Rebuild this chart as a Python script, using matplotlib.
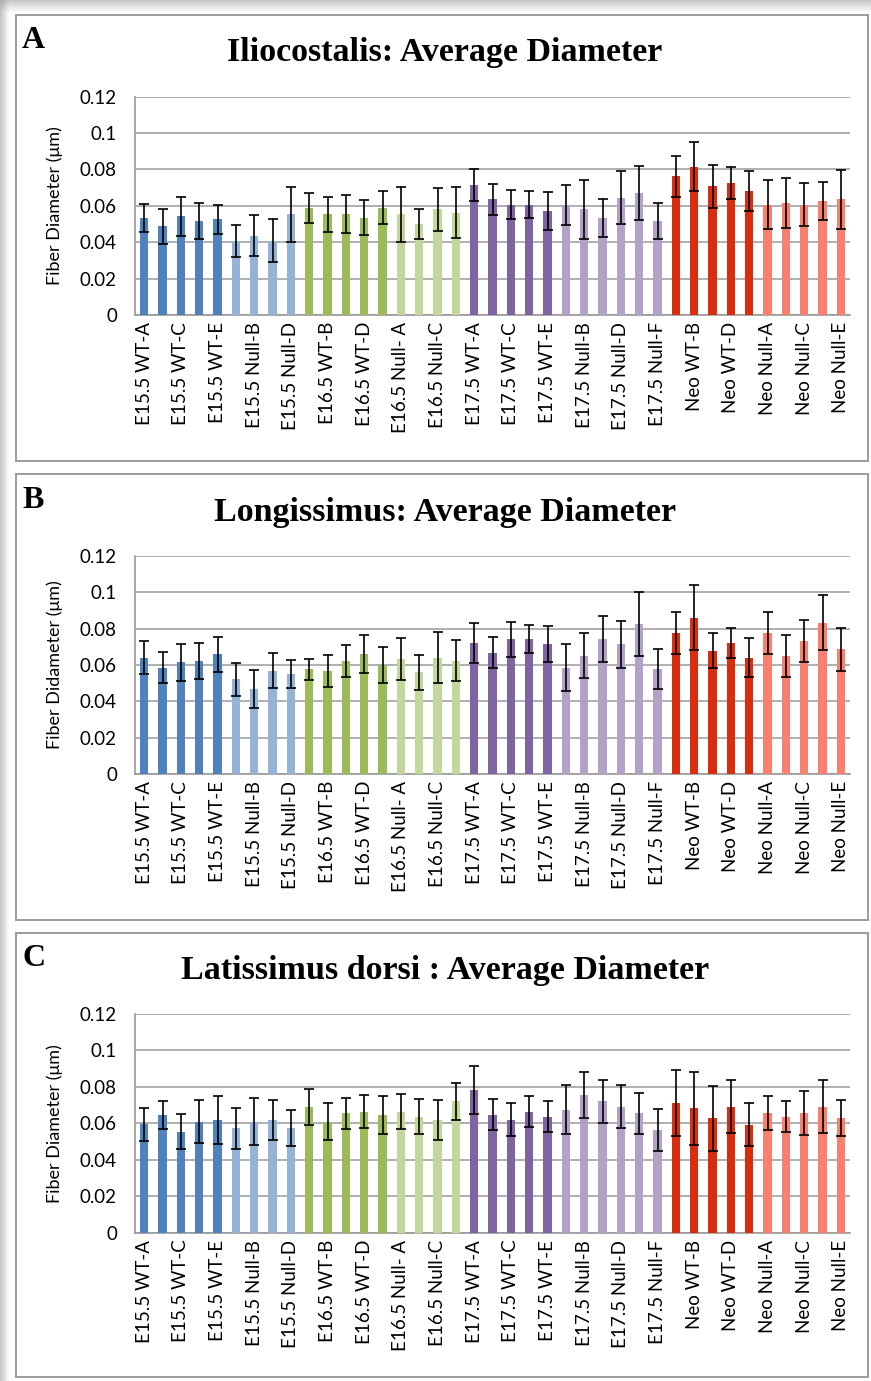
import matplotlib
matplotlib.use("Agg")
import matplotlib.pyplot as plt
from matplotlib.patches import Rectangle
import numpy as np

categories = [
    "E15.5 WT-A", "E15.5 WT-B", "E15.5 WT-C", "E15.5 WT-D", "E15.5 WT-E",
    "E15.5 Null-A", "E15.5 Null-B", "E15.5 Null-C", "E15.5 Null-D",
    "E16.5 WT-A", "E16.5 WT-B", "E16.5 WT-C", "E16.5 WT-D", "E16.5 WT-E",
    "E16.5 Null- A", "E16.5 Null-B", "E16.5 Null-C", "E16.5 Null-D",
    "E17.5 WT-A", "E17.5 WT-B", "E17.5 WT-C", "E17.5 WT-D", "E17.5 WT-E",
    "E17.5 Null-A", "E17.5 Null-B", "E17.5 Null-C", "E17.5 Null-D", "E17.5 Null-E", "E17.5 Null-F",
    "Neo WT-A", "Neo WT-B", "Neo WT-C", "Neo WT-D", "Neo WT-E",
    "Neo Null-A", "Neo Null-B", "Neo Null-C", "Neo Null-D", "Neo Null-E",
]
group_sizes = [5, 4, 5, 4, 5, 6, 5, 5]
group_colors = ["#4F81BD", "#95B3D7", "#9BBB59", "#C3D69B",
                "#8064A2", "#B3A2C7", "#DA2D0E", "#F9806E"]

ilio_mean = [0.0533, 0.0487, 0.0542, 0.0516, 0.0525,
             0.0407, 0.0435, 0.0407, 0.0553,
             0.0589, 0.0553, 0.0553, 0.0535, 0.0589,
             0.0553, 0.0498, 0.0580, 0.0562,
             0.0716, 0.0635, 0.0607, 0.0607, 0.0571,
             0.0607, 0.0580, 0.0535, 0.0644, 0.0671, 0.0516,
             0.0762, 0.0816, 0.0707, 0.0725, 0.0680,
             0.0607, 0.0616, 0.0607, 0.0625, 0.0635]
ilio_err = [0.0078, 0.0095, 0.0105, 0.0100, 0.0078,
            0.0090, 0.0112, 0.0118, 0.0150,
            0.0081, 0.0094, 0.0104, 0.0095, 0.0090,
            0.0150, 0.0082, 0.0117, 0.0140,
            0.0089, 0.0087, 0.0082, 0.0073, 0.0105,
            0.0110, 0.0160, 0.0105, 0.0145, 0.0150, 0.0100,
            0.0113, 0.0137, 0.0118, 0.0087, 0.0110,
            0.0136, 0.0137, 0.0118, 0.0105, 0.0164]

long_mean = [0.0641, 0.0586, 0.0614, 0.0623, 0.0659,
             0.0522, 0.0467, 0.0568, 0.0550,
             0.0577, 0.0568, 0.0623, 0.0659, 0.0599,
             0.0632, 0.0559, 0.0641, 0.0623,
             0.0723, 0.0668, 0.0742, 0.0742, 0.0714,
             0.0586, 0.0650, 0.0742, 0.0714, 0.0824, 0.0577,
             0.0778, 0.0861, 0.0678, 0.0723, 0.0641,
             0.0778, 0.0650, 0.0733, 0.0833, 0.0687]
long_err = [0.0092, 0.0087, 0.0100, 0.0100, 0.0096,
            0.0090, 0.0103, 0.0096, 0.0078,
            0.0058, 0.0087, 0.0087, 0.0105, 0.0100,
            0.0115, 0.0095, 0.0142, 0.0113,
            0.0110, 0.0087, 0.0096, 0.0078, 0.0100,
            0.0128, 0.0124, 0.0128, 0.0128, 0.0177, 0.0110,
            0.0115, 0.0179, 0.0096, 0.0082, 0.0105,
            0.0115, 0.0114, 0.0114, 0.0151, 0.0119]

lat_mean = [0.0595, 0.0647, 0.0555, 0.0610, 0.0619,
            0.0573, 0.0610, 0.0619, 0.0573,
            0.0692, 0.0610, 0.0656, 0.0665, 0.0647,
            0.0665, 0.0637, 0.0619, 0.0720,
            0.0784, 0.0647, 0.0619, 0.0665, 0.0637,
            0.0674, 0.0756, 0.0720, 0.0692, 0.0656, 0.0564,
            0.0711, 0.0683, 0.0628, 0.0692, 0.0592,
            0.0656, 0.0637, 0.0656, 0.0692, 0.0628]
lat_err = [0.0090, 0.0078, 0.0096, 0.0117, 0.0132,
           0.0113, 0.0127, 0.0108, 0.0100,
           0.0099, 0.0099, 0.0085, 0.0092, 0.0104,
           0.0095, 0.0094, 0.0108, 0.0099,
           0.0131, 0.0085, 0.0090, 0.0083, 0.0085,
           0.0135, 0.0124, 0.0117, 0.0117, 0.0112, 0.0113,
           0.0181, 0.0200, 0.0177, 0.0145, 0.0117,
           0.0094, 0.0085, 0.0122, 0.0145, 0.0099]

yticks = [0, 0.02, 0.04, 0.06, 0.08, 0.1, 0.12]
ytick_labels = ["0", "0.02", "0.04", "0.06", "0.08", "0.1", "0.12"]

panels = [
    ("A", "Iliocostalis: Average Diameter", "Fiber Diameter (\u03bcm)", ilio_mean, ilio_err),
    ("B", "Longissimus: Average Diameter", "Fiber Didameter (\u03bcm)", long_mean, long_err),
    ("C", "Latissimus dorsi : Average Diameter", "Fiber Diameter (\u03bcm)", lat_mean, lat_err),
]

W, H = 871, 1381
fig = plt.figure(figsize=(W / 100, H / 100), dpi=100)
fig.patch.set_facecolor("white")

# outer shadow bands (top and left)
for i, a in enumerate(np.linspace(0.55, 0.05, 10)):
    fig.add_artist(Rectangle((0, 1 - (i + 1) / H * 1.2), 1, 1.2 / H, transform=fig.transFigure,
                             facecolor="#9a9a9a", edgecolor="none", alpha=a, zorder=0))
    fig.add_artist(Rectangle((i / W * 0.9, 0), 0.9 / W, 1, transform=fig.transFigure,
                             facecolor="#9a9a9a", edgecolor="none", alpha=a, zorder=0))

# panel boxes (pixel coords: left, top, right, bottom)
boxes = [(16, 15, 868, 461), (16, 474, 868, 920), (16, 933, 868, 1377)]
# axes (pixel): left, right, y0 (value 0), y12 (value 0.12)
axes_px = [(135, 850, 315, 96.7), (135, 850, 774, 556), (135, 850, 1232.7, 1014)]
title_y = [52, 512, 970]
letter_y = [40, 500, 958]

colors = []
for c, n in zip(group_colors, group_sizes):
    colors += [c] * n

x = np.arange(len(categories))
serif = ["Liberation Serif", "DejaVu Serif"]
sans = ["Lato", "DejaVu Sans"]

for k, (letter, title, ylabel, mean, err) in enumerate(panels):
    l, t, r, b = boxes[k]
    fig.add_artist(Rectangle((l / W, 1 - b / H), (r - l) / W, (b - t) / H,
                             transform=fig.transFigure, facecolor="white",
                             edgecolor="#9c9c9c", linewidth=1.4, zorder=1))
    al, ar, y0, y12 = axes_px[k]
    ax = fig.add_axes([al / W, 1 - y0 / H, (ar - al) / W, (y0 - y12) / H])
    ax.set_zorder(2)
    ax.patch.set_alpha(0)
    ax.bar(x, mean, width=0.45, color=colors, zorder=3)
    ax.errorbar(x, mean, yerr=err, fmt="none", ecolor="black", elinewidth=1.2,
                capsize=3.6, capthick=1.2, zorder=4)
    ax.set_xlim(-0.5, len(categories) - 0.5)
    ax.set_ylim(0, 0.12)
    ax.set_yticks(yticks)
    ax.set_yticklabels(ytick_labels, family=sans, fontsize=13.5)
    ax.yaxis.grid(True, color="#9a9a9a", linewidth=1.1, zorder=0)
    ax.set_axisbelow(True)
    ax.set_xticks(x[::2])
    ax.set_xticklabels(categories[::2], rotation=90, family=sans, fontsize=13.5)
    ax.tick_params(axis="y", length=0, pad=13)
    ax.tick_params(axis="x", length=0, pad=5)
    for s in ("top", "right"):
        ax.spines[s].set_visible(False)
    for s in ("left", "bottom"):
        ax.spines[s].set_color("#9a9a9a")
        ax.spines[s].set_linewidth(1.2)
    fig.text(55 / W, 1 - (y0 + y12) / 2 / H, ylabel, rotation=90, ha="center", va="center",
             family=sans, fontsize=13)
    fig.text(445 / W, 1 - title_y[k] / H, title, ha="center", va="center",
             family=serif, fontsize=24.5, fontweight="bold")
    fig.text(22 / W, 1 - letter_y[k] / H, letter, ha="left", va="center",
             family=serif, fontsize=23, fontweight="bold")

fig.savefig("out.png", dpi=100, facecolor="white")
